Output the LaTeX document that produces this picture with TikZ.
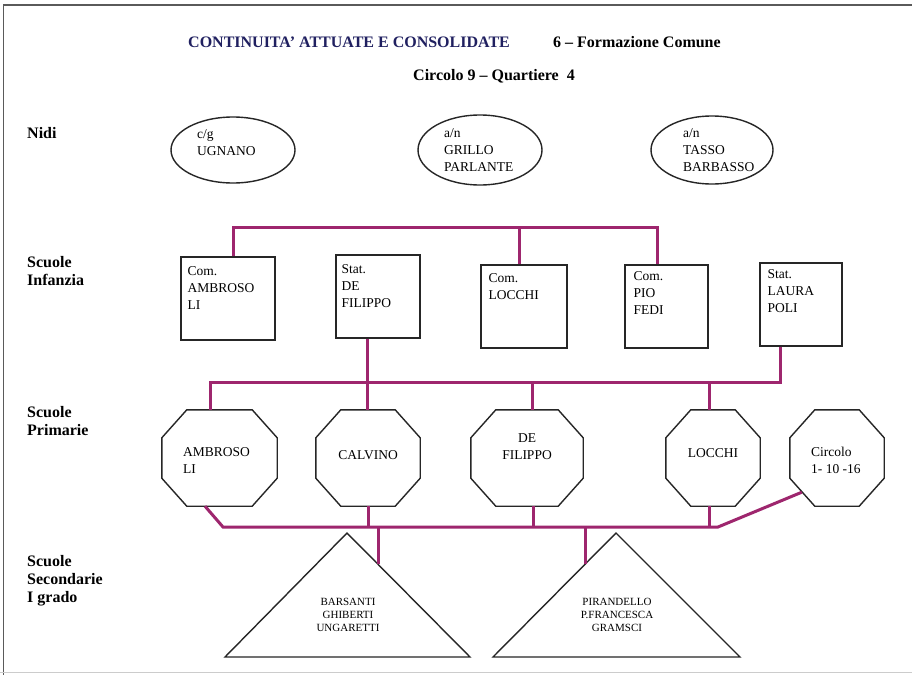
\documentclass[tikz,border=0pt]{standalone}
\usepackage{fontspec}
\setmainfont{Liberation Serif}
\usetikzlibrary{shapes.geometric,calc}

\definecolor{linkc}{RGB}{158,38,110}
\definecolor{navy}{RGB}{32,32,96}
\definecolor{edge}{RGB}{38,38,38}
\definecolor{framec}{RGB}{90,90,90}

\tikzset{
  link/.style={draw=linkc, line width=3pt},
  outline/.style={draw=edge, line width=1.4pt, line join=miter},
  nido/.style={outline, ellipse, inner sep=0pt},
  infbox/.style={outline, rectangle, inner sep=0pt, minimum height=83pt},
  octbox/.style={rectangle, inner sep=0pt, minimum height=96pt},
  txt/.style={inner sep=0pt, align=left, font=\fontsize{13.5}{17}\selectfont},
  ctxt/.style={inner sep=0pt, align=center, font=\fontsize{13.5}{17}\selectfont},
  smalltxt/.style={inner sep=0pt, align=center, font=\fontsize{11}{13}\selectfont},
  heading/.style={inner sep=0pt, font=\fontsize{16}{19}\selectfont\bfseries},
  rowlabel/.style={inner sep=0pt, align=left, anchor=north west, font=\fontsize{16}{18}\selectfont\bfseries},
}

% octagon drawn around a named rectangular node
\newcommand\octframe[1]{%
  \draw[outline] ([xshift=25pt]#1.north west) -- ([xshift=-25pt]#1.north east)
    -- ([yshift=-28pt]#1.north east) -- ([yshift=28pt]#1.south east)
    -- ([xshift=-25pt]#1.south east) -- ([xshift=25pt]#1.south west)
    -- ([yshift=28pt]#1.south west) -- ([yshift=-28pt]#1.north west) -- cycle;}

\begin{document}
\begin{tikzpicture}[x=1pt, y=-1pt]
\useasboundingbox (0,0) rectangle (912,675);
\fill[white] (0,0) rectangle (912,675);

% page frame
\draw[draw=framec, line width=1.5pt] (912,5) -- (3.5,5) -- (3.5,675);
\draw[draw=black!20, line width=1pt] (0,672) -- (912,672);

% headings
\node[heading, anchor=west, text=navy] (ttl) at (188,42) {CONTINUITA' ATTUATE E CONSOLIDATE};
\node[heading, anchor=west] (form) at (553,42) {6 -- Formazione Comune};
\node[heading, anchor=west] (circ) at (413,76) {Circolo 9 -- Quartiere\ \ 4};

% row labels
\node[rowlabel] (lnidi) at (27,127) {Nidi};
\node[rowlabel] (linf) at (27,256) {Scuole\\Infanzia};
\node[rowlabel] (lprim) at (27,406) {Scuole\\Primarie};
\node[rowlabel] (lsec) at (27,555) {Scuole\\Secondarie\\I grado};

% nidi
\node[nido, minimum width=124pt, minimum height=66pt] (e1) at (233,150) {};
\node[nido, minimum width=124pt, minimum height=70pt] (e2) at (480,150) {};
\node[nido, minimum width=122pt, minimum height=68pt] (e3) at (712,150) {};
\node[txt, anchor=north west] (e1t) at (197,129) {c/g\\UGNANO};
\node[txt, anchor=north west] (e2t) at (444,128) {a/n\\GRILLO\\PARLANTE};
\node[txt, anchor=north west] (e3t) at (683,128) {a/n\\TASSO\\BARBASSO};

% scuole infanzia
\node[infbox, minimum width=94pt] (i1) at (228,298.5) {};
\node[infbox, minimum width=84pt] (i2) at (378,296.5) {};
\node[infbox, minimum width=86pt] (i3) at (524,306.5) {};
\node[infbox, minimum width=83pt] (i4) at (666.5,306.5) {};
\node[infbox, minimum width=82pt] (i5) at (801,304.5) {};
\node[txt, anchor=north west] (i1t) at ([shift={(7,10)}]i1.north west) {Com.\\AMBROSO\\LI};
\node[txt, anchor=north west] (i2t) at ([shift={(6,10)}]i2.north west) {Stat.\\DE\\FILIPPO};
\node[txt, anchor=north west] (i3t) at ([shift={(8,9)}]i3.north west) {Com.\\LOCCHI};
\node[txt, anchor=north west] (i4t) at ([shift={(9,7)}]i4.north west) {Com.\\PIO\\FEDI};
\node[txt, anchor=north west] (i5t) at ([shift={(8,7)}]i5.north west) {Stat.\\LAURA\\POLI};

% scuole primarie
\node[octbox, minimum width=115pt] (p1) at (219.5,458) {};
\node[octbox, minimum width=104pt] (p2) at (368,458) {};
\node[octbox, minimum width=112pt] (p3) at (527,458) {};
\node[octbox, minimum width=94pt] (p4) at (713,458) {};
\node[octbox, minimum width=94pt] (p5) at (837,458) {};
\octframe{p1}\octframe{p2}\octframe{p3}\octframe{p4}\octframe{p5}
\node[txt, anchor=north west] (p1t) at (183,447) {AMBROSO\\LI};
\node[ctxt] (p2t) at (368,455) {CALVINO};
\node[ctxt] (p3t) at (527,447) {DE\\FILIPPO};
\node[ctxt] (p4t) at (713,453) {LOCCHI};
\node[txt, anchor=north west] (p5t) at (811,447) {Circolo\\1- 10 -16};

% scuole secondarie di I grado
\coordinate (s1a) at (347,533);
\coordinate (s1l) at (225,657);
\coordinate (s1r) at (470,657);
\coordinate (s2a) at (616,533);
\coordinate (s2l) at (493,657);
\coordinate (s2r) at (740,657);
\draw[outline] (s1a) -- (s1r) -- (s1l) -- cycle;
\draw[outline] (s2a) -- (s2r) -- (s2l) -- cycle;
\node[smalltxt] (s1t) at (348,615) {BARSANTI\\GHIBERTI\\UNGARETTI};
\node[smalltxt] (s2t) at (617,615) {PIRANDELLO\\P.FRANCESCA\\GRAMSCI};
\coordinate (s1k) at ($(s1a)!0.25!(s1r)$);
\coordinate (s2k) at ($(s2a)!0.252!(s2l)$);

% nidi -> infanzia
\coordinate (ta) at (233,227);
\coordinate (tb) at (519,227);
\coordinate (tc) at (657,227);
\draw[link] (ta |- i1.north) -- (ta) -- (tc) -- (tc |- i4.north);
\draw[link] (tb) -- (tb |- i3.north);

% infanzia -> primarie
\coordinate (ma) at (210,382);
\coordinate (mb) at (367,382);
\coordinate (mc) at (532,382);
\coordinate (md) at (709,382);
\coordinate (me) at (780,382);
\draw[link] (me |- i5.south) -- (me) -- (ma) -- (ma |- p1.north);
\draw[link] (mb |- i2.south) -- (mb |- p2.north);
\draw[link] (mc) -- (mc |- p3.north);
\draw[link] (md) -- (md |- p4.north);

% primarie -> secondarie
\coordinate (ba) at (223,527);
\coordinate (bb) at (368,527);
\coordinate (bc) at (533,527);
\coordinate (bd) at (709,527);
\coordinate (be) at (718,527);
\coordinate (bs1) at (378,527);
\coordinate (bs2) at (585,527);
\draw[link] ([xshift=-14.5pt]p1.south) -- (ba) -- (be) -- ([xshift=12pt,yshift=14pt]p5.south west);
\draw[link] (bb |- p2.south) -- (bb);
\draw[link] (bc |- p3.south) -- (bc);
\draw[link] (bd |- p4.south) -- (bd);
\draw[link] (bs1) -- (bs1 |- s1k);
\draw[link] (bs2) -- (bs2 |- s2k);
\end{tikzpicture}
\end{document}
